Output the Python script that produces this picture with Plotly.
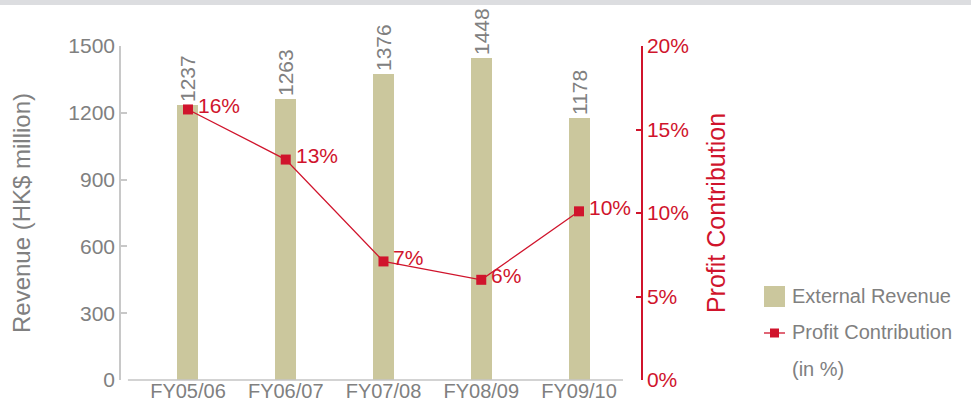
import plotly.graph_objects as go

# Fiscal years and values
years = ["FY05/06", "FY06/07", "FY07/08", "FY08/09", "FY09/10"]
revenue = [1237, 1263, 1376, 1448, 1178]          # HK$ million
profit_pct = [16.2, 13.2, 7.1, 6.0, 10.1]          # Profit contribution, %
profit_labels = ["16%", "13%", "7%", "6%", "10%"]

rev_ticks = [0, 300, 600, 900, 1200, 1500]
pct_ticks = [0, 5, 10, 15, 20]
pct_tick_text = ["0%", "5%", "10%", "15%", "20%"]

legend_names = ["External Revenue", "Profit Contribution", "(in %)"]

FONT = "Liberation Sans"
GRAY = "#808080"
RED = "#d0142c"
KHAKI = "#cbc79d"

W, H = 971, 402
ML, MR, MT, MB = 121, 330, 46, 22
PW, PH = W - ML - MR, H - MT - MB

x_idx = list(range(len(years)))

fig = go.Figure()

fig.add_trace(go.Bar(
    x=x_idx, y=revenue, name=legend_names[0],
    marker=dict(color=KHAKI, line=dict(width=0)),
    width=0.215,
    text=[str(v) for v in revenue], textposition="outside", textangle=-90,
    constraintext="none",
    textfont=dict(family=FONT, size=21, color=GRAY),
    cliponaxis=False, showlegend=False,
))

fig.add_trace(go.Scatter(
    x=x_idx, y=profit_pct, yaxis="y2", name=legend_names[1],
    mode="lines+markers",
    line=dict(color=RED, width=1.3),
    marker=dict(symbol="square", size=10, color=RED),
    cliponaxis=False, showlegend=False,
))

# percentage labels beside each marker
for i, (v, lab) in enumerate(zip(profit_pct, profit_labels)):
    fig.add_annotation(x=i, y=v, yref="y2", text=lab, showarrow=False,
                       xanchor="left", yanchor="middle", xshift=8, yshift=4,
                       font=dict(family=FONT, size=21, color=RED))

# thin gray band across the top of the page
fig.add_shape(type="rect", xref="paper", yref="paper",
              x0=-ML / PW, x1=1 + MR / PW,
              y0=1 + (MT - 5) / PH, y1=1 + MT / PH,
              fillcolor="#dcdde0", line=dict(width=0), layer="below")

# category baseline
fig.add_shape(type="line", xref="x", yref="paper",
              x0=-0.614, x1=4.45, y0=0, y1=0,
              line=dict(color="#c4c4c4", width=1.5))

# legend, drawn in paper space to the right of the plot
def px_x(p):
    return (p - ML) / PW

def px_y(p):
    return (H - MB - p) / PH

fig.add_shape(type="rect", xref="paper", yref="paper",
              x0=px_x(764), x1=px_x(785), y0=px_y(307), y1=px_y(286),
              fillcolor=KHAKI, line=dict(width=0))
fig.add_shape(type="line", xref="paper", yref="paper",
              x0=px_x(764), x1=px_x(785), y0=px_y(333), y1=px_y(333),
              line=dict(color=RED, width=1.3))
fig.add_shape(type="rect", xref="paper", yref="paper",
              x0=px_x(770), x1=px_x(779), y0=px_y(337.5), y1=px_y(328.5),
              fillcolor=RED, line=dict(width=0))
for name, ypx in zip(legend_names, [296, 332, 369]):
    fig.add_annotation(xref="paper", yref="paper", x=px_x(790), y=px_y(ypx),
                       text=name, showarrow=False, xanchor="left", yanchor="middle",
                       font=dict(family=FONT, size=20, color=GRAY))

fig.update_layout(
    width=W, height=H,
    margin=dict(l=ML, r=MR, t=MT, b=MB, autoexpand=False),
    paper_bgcolor="white", plot_bgcolor="white",
    font=dict(family=FONT, color=GRAY, size=21),
    bargap=0,
    showlegend=False,
    xaxis=dict(
        range=[-0.685, 4.634], tickvals=x_idx, ticktext=years,
        showline=False, showgrid=False, zeroline=False, ticks="",
        automargin=False, ticklabelstandoff=-3,
        tickfont=dict(family=FONT, size=20, color=GRAY),
    ),
    yaxis=dict(
        range=[0, 1500], tickvals=rev_ticks,
        showline=True, linecolor="#c8c8c8", linewidth=1.5,
        ticks="inside", ticklen=6, tickcolor="#c8c8c8", tickwidth=1.5,
        showgrid=False, zeroline=False, automargin=False,
        tickfont=dict(family=FONT, size=21, color=GRAY),
        title=dict(text="Revenue (HK$ million)", standoff=31,
                   font=dict(family=FONT, size=24, color=GRAY)),
    ),
    yaxis2=dict(
        range=[0, 20], tickvals=pct_ticks, ticktext=pct_tick_text,
        overlaying="y", side="right",
        showline=True, linecolor=RED, linewidth=1.5,
        ticks="inside", ticklen=5, tickcolor=RED, tickwidth=1.5,
        showgrid=False, zeroline=False, automargin=False,
        tickfont=dict(family=FONT, size=21, color=RED),
        title=dict(text="Profit Contribution", standoff=20,
                   font=dict(family=FONT, size=25, color=RED)),
    ),
)

fig.write_html("out.html")
